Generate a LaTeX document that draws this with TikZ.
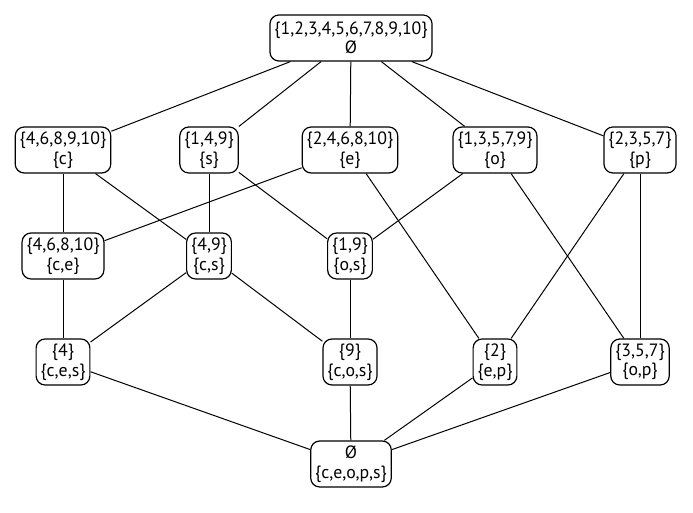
\documentclass[tikz,border=0pt]{standalone}
\usepackage{fontspec}
\setmainfont{PT Sans}
\usetikzlibrary{positioning}

\begin{document}
\begin{tikzpicture}[x=1pt, y=1pt,
  every node/.style={draw, rounded corners=9pt, line width=1.2pt, align=center,
    font=\fontsize{17.8}{19.5}\selectfont, minimum height=46pt, inner xsep=4.5pt, inner ysep=2pt},
  edge/.style={line width=1pt}]

\useasboundingbox (0,0) rectangle (693,513);

% top and bottom
\node (top) at (351,475) {\{1,2,3,4,5,6,7,8,9,10\}\\Ø};
\node (bot) at (351,49) {Ø\\\{c,e,o,p,s\}};

% row 1
\node (c) at (63,363) {\{4,6,8,9,10\}\\\{c\}};
\node (s) at (209,363) {\{1,4,9\}\\\{s\}};
\node (e) at (350,363) {\{2,4,6,8,10\}\\\{e\}};
\node (o) at (495,363) {\{1,3,5,7,9\}\\\{o\}};
\node (p) at (640,363) {\{2,3,5,7\}\\\{p\}};

% row 2
\node (ce) at (63,257) {\{4,6,8,10\}\\\{c,e\}};
\node (cs) at (209,257) {\{4,9\}\\\{c,s\}};
\node (os) at (350,257) {\{1,9\}\\\{o,s\}};

% row 3
\node (ces) at (63,151) {\{4\}\\\{c,e,s\}};
\node (cos) at (350,151) {\{9\}\\\{c,o,s\}};
\node (ep) at (495,151) {\{2\}\\\{e,p\}};
\node (op) at (640,151) {\{3,5,7\}\\\{o,p\}};

\foreach \n in {c,s,e,o,p}
  \draw[edge] (top) -- (\n);
\draw[edge] (c) -- (ce);
\draw[edge] (c) -- (cs);
\draw[edge] (s) -- (cs);
\draw[edge] (s) -- (os);
\draw[edge] (e) -- (ce);
\draw[edge] (e) -- (ep);
\draw[edge] (o) -- (os);
\draw[edge] (o) -- (op);
\draw[edge] (p) -- (ep);
\draw[edge] (p) -- (op);
\draw[edge] (ce) -- (ces);
\draw[edge] (cs) -- (ces);
\draw[edge] (cs) -- (cos);
\draw[edge] (os) -- (cos);
\foreach \n in {ces,cos,ep,op}
  \draw[edge] (\n) -- (bot);

\end{tikzpicture}
\end{document}
